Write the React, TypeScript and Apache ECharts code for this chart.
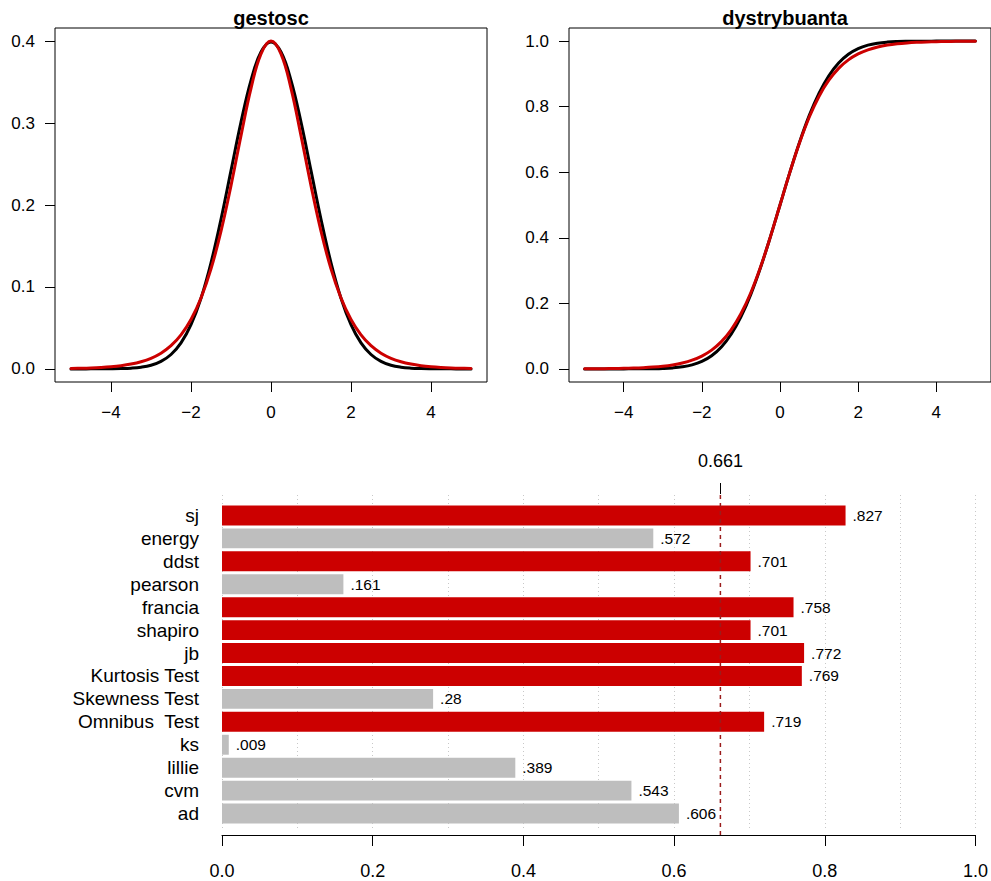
import React, { useEffect, useRef } from "react";
import * as echarts from "echarts";

// x grid for the two top panels
const xs = [-5, -4.75, -4.5, -4.25, -4, -3.75, -3.5, -3.25, -3, -2.75, -2.5, -2.25, -2, -1.75, -1.5, -1.25, -1, -0.75, -0.5, -0.25, 0, 0.25, 0.5, 0.75, 1, 1.25, 1.5, 1.75, 2, 2.25, 2.5, 2.75, 3, 3.25, 3.5, 3.75, 4, 4.25, 4.5, 4.75, 5];

// density (gestosc): black and red curves
const densBlack = [0.0, 0.00001, 0.00002, 0.00005, 0.00013, 0.00035, 0.00087, 0.00203, 0.00443, 0.00909, 0.01753, 0.03174, 0.05399, 0.08628, 0.12952, 0.18265, 0.24197, 0.30114, 0.35207, 0.38667, 0.39894, 0.38667, 0.35207, 0.30114, 0.24197, 0.18265, 0.12952, 0.08628, 0.05399, 0.03174, 0.01753, 0.00909, 0.00443, 0.00203, 0.00087, 0.00035, 0.00013, 0.00005, 0.00002, 0.00001, 0.0];
const densRed = [0.00054, 0.0008, 0.00119, 0.00178, 0.00265, 0.00395, 0.00588, 0.00873, 0.01295, 0.01917, 0.02826, 0.04142, 0.06021, 0.08646, 0.12201, 0.16799, 0.22362, 0.28463, 0.34226, 0.38442, 0.4, 0.38442, 0.34226, 0.28463, 0.22362, 0.16799, 0.12201, 0.08646, 0.06021, 0.04142, 0.02826, 0.01917, 0.01295, 0.00873, 0.00588, 0.00395, 0.00265, 0.00178, 0.00119, 0.0008, 0.00054];

// distribution function (dystrybuanta)
const cdfBlack = [0.0, 0.0, 0.0, 0.00001, 0.00003, 0.00009, 0.00023, 0.00058, 0.00135, 0.00298, 0.00621, 0.01222, 0.02275, 0.04006, 0.06681, 0.10565, 0.15866, 0.22663, 0.30854, 0.40129, 0.5, 0.59871, 0.69146, 0.77337, 0.84134, 0.89435, 0.93319, 0.95994, 0.97725, 0.98778, 0.99379, 0.99702, 0.99865, 0.99942, 0.99977, 0.99991, 0.99997, 0.99999, 1.0, 1.0, 1.0];
const cdfRed = [0.00034, 0.0005, 0.00075, 0.00111, 0.00166, 0.00247, 0.00369, 0.00549, 0.00816, 0.01213, 0.01799, 0.02659, 0.03917, 0.05732, 0.08317, 0.1192, 0.16799, 0.23147, 0.31003, 0.40131, 0.5, 0.59869, 0.68997, 0.76853, 0.83201, 0.8808, 0.91683, 0.94268, 0.96083, 0.97341, 0.98201, 0.98787, 0.99184, 0.99451, 0.99631, 0.99753, 0.99834, 0.99889, 0.99925, 0.9995, 0.99966];

// tick labels
const topXTicks = [-4, -2, 0, 2, 4];
const densYTicks = [0, 0.1, 0.2, 0.3, 0.4];
const cdfYTicks = [0, 0.2, 0.4, 0.6, 0.8, 1.0];

// bar chart
const tests = ["sj", "energy", "ddst", "pearson", "francia", "shapiro", "jb", "Kurtosis Test", "Skewness Test", "Omnibus  Test", "ks", "lillie", "cvm", "ad"];
const powers = [0.827, 0.572, 0.701, 0.161, 0.758, 0.701, 0.772, 0.769, 0.28, 0.719, 0.009, 0.389, 0.543, 0.606];
const threshold = 0.661;

const FONT = "Liberation Sans, Arial, Helvetica, sans-serif";
const RED = "#CC0000";
const GRAY = "#BEBEBE";

const minusFmt = (v: number) => (v < 0 ? "\u2212" + Math.abs(v) : String(v));

export default function App() {
  const ref = useRef<HTMLDivElement>(null);
  useEffect(() => {
    if (!ref.current) return;
    const chart = echarts.init(ref.current, null, { renderer: "svg" });

    const hiddenLine = { show: false, onZero: false };
    const tickStyle = { show: true, length: 10, lineStyle: { color: "#000", width: 1 } };

    const option: any = {
      animation: false,
      backgroundColor: "#fff",
      textStyle: { fontFamily: FONT },
      grid: [
        { left: 55, top: 28, width: 432, height: 354, show: true, borderColor: "#000", borderWidth: 1, backgroundColor: "transparent" },
        { left: 569, top: 28, width: 432, height: 354, show: true, borderColor: "#000", borderWidth: 1, backgroundColor: "transparent" },
        { left: 222, top: 504, width: 754, height: 321 },
        { left: 222, top: 495, width: 754, height: 335 },
        { left: 222, top: 494, width: 754, height: 341 },
      ],
      xAxis: [
        {
          gridIndex: 0, type: "value", min: -5.4, max: 5.4, position: "bottom",
          axisLine: hiddenLine, splitLine: { show: false },
          axisTick: { ...tickStyle, customValues: topXTicks },
          axisLabel: { customValues: topXTicks, formatter: minusFmt, fontSize: 17, color: "#000", margin: 22, fontFamily: FONT },
        },
        {
          gridIndex: 1, type: "value", min: -5.4, max: 5.4, position: "bottom",
          axisLine: hiddenLine, splitLine: { show: false },
          axisTick: { ...tickStyle, customValues: topXTicks },
          axisLabel: { customValues: topXTicks, formatter: minusFmt, fontSize: 17, color: "#000", margin: 22, fontFamily: FONT },
        },
        { gridIndex: 2, type: "value", min: 0, max: 1, show: false, axisLine: { onZero: false } },
        {
          gridIndex: 3, type: "value", min: 0, max: 1, interval: 0.1, position: "bottom",
          axisLine: hiddenLine, axisTick: { show: false }, axisLabel: { show: false },
          splitLine: { show: true, showMinLine: true, showMaxLine: true, lineStyle: { color: "#C8C8C8", type: [1, 3], width: 1 } },
        },
        {
          gridIndex: 3, type: "value", min: 0, max: 1, interval: 0.2, position: "bottom", offset: 5,
          axisLine: { show: true, onZero: false, lineStyle: { color: "#000", width: 1 } },
          axisTick: { show: true, length: 11, lineStyle: { color: "#000", width: 1 } },
          axisLabel: { fontSize: 18, color: "#000", margin: 27, fontFamily: FONT, formatter: (v: number) => v.toFixed(1) },
          splitLine: { show: false },
        },
        {
          gridIndex: 4, type: "value", min: 0, max: 1, position: "top",
          axisLine: hiddenLine,
          axisTick: { show: true, length: 11, customValues: [threshold], lineStyle: { color: "#000", width: 1 } },
          axisLabel: { customValues: [threshold], fontSize: 18, color: "#000", margin: 24, fontFamily: FONT, formatter: (v: number) => v.toFixed(3) },
          splitLine: { show: false },
        },
      ],
      yAxis: [
        {
          gridIndex: 0, type: "value", min: -0.016, max: 0.416, position: "left",
          axisLine: hiddenLine, splitLine: { show: false },
          axisTick: { ...tickStyle, customValues: densYTicks },
          axisLabel: { customValues: densYTicks, formatter: (v: number) => v.toFixed(1), fontSize: 17, color: "#000", margin: 20, fontFamily: FONT },
        },
        {
          gridIndex: 1, type: "value", min: -0.04, max: 1.04, position: "left",
          axisLine: hiddenLine, splitLine: { show: false },
          axisTick: { ...tickStyle, customValues: cdfYTicks },
          axisLabel: { customValues: cdfYTicks, formatter: (v: number) => v.toFixed(1), fontSize: 17, color: "#000", margin: 20, fontFamily: FONT },
        },
        {
          gridIndex: 2, type: "category", inverse: true, data: tests,
          axisLine: hiddenLine, axisTick: { show: false },
          axisLabel: { interval: 0, fontSize: 19, color: "#000", margin: 23, fontFamily: FONT },
        },
        { gridIndex: 3, type: "value", min: 0, max: 1, show: false, axisLine: { onZero: false } },
        { gridIndex: 4, type: "value", min: 0, max: 1, show: false, axisLine: { onZero: false } },
      ],
      graphic: [
        { type: "text", x: 271, y: 18, style: { text: "gestosc", align: "center", verticalAlign: "middle", font: `bold 20px ${FONT}`, fill: "#000" } },
        { type: "text", x: 785, y: 18, style: { text: "dystrybuanta", align: "center", verticalAlign: "middle", font: `bold 20px ${FONT}`, fill: "#000" } },
      ],
      series: [
        {
          type: "line", xAxisIndex: 0, yAxisIndex: 0, showSymbol: false, smooth: 0.4, z: 2,
          data: xs.map((x, i) => [x, densBlack[i]]),
          lineStyle: { color: "#000", width: 3, cap: "round", join: "round" },
        },
        {
          type: "line", xAxisIndex: 0, yAxisIndex: 0, showSymbol: false, smooth: 0.4, z: 3,
          data: xs.map((x, i) => [x, densRed[i]]),
          lineStyle: { color: RED, width: 3, cap: "round", join: "round" },
        },
        {
          type: "line", xAxisIndex: 1, yAxisIndex: 1, showSymbol: false, smooth: 0.4, z: 2,
          data: xs.map((x, i) => [x, cdfBlack[i]]),
          lineStyle: { color: "#000", width: 3, cap: "round", join: "round" },
        },
        {
          type: "line", xAxisIndex: 1, yAxisIndex: 1, showSymbol: false, smooth: 0.4, z: 3,
          data: xs.map((x, i) => [x, cdfRed[i]]),
          lineStyle: { color: RED, width: 3, cap: "round", join: "round" },
        },
        {
          type: "bar", xAxisIndex: 2, yAxisIndex: 2, barCategoryGap: "13%", z: 3,
          data: powers.map((v) => ({ value: v, itemStyle: { color: v > threshold ? RED : GRAY } })),
          label: {
            show: true, position: "right", distance: 7, fontSize: 15.5, color: "#000", fontFamily: FONT,
            formatter: (p: any) => String(p.value).replace(/^0\./, "."),
          },
        },
        {
          type: "line", xAxisIndex: 5, yAxisIndex: 4, showSymbol: false, z: 5, silent: true,
          data: [[threshold, 0], [threshold, 1]],
          lineStyle: { color: "#9B1C1C", width: 1.5, type: [4, 4] },
        },
      ],
    };
    chart.setOption(option);
    return () => chart.dispose();
  }, []);

  return (
    <div
      ref={ref}
      style={{ position: "absolute", left: 0, top: 0, width: 991, height: 881 }}
    />
  );
}
